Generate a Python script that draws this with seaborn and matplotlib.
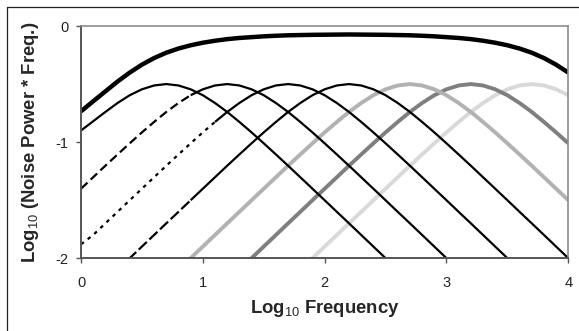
import numpy as np
import pandas as pd
import matplotlib
matplotlib.use("Agg")
import matplotlib.pyplot as plt
import seaborn as sns

# ---- data ----
LOG_FREQ = [0.0, 0.1, 0.2, 0.3, 0.4, 0.5, 0.6, 0.7, 0.8, 0.9,
            1.0, 1.1, 1.2, 1.3, 1.4, 1.5, 1.6, 1.7, 1.8, 1.9,
            2.0, 2.1, 2.2, 2.3, 2.4, 2.5, 2.6, 2.7, 2.8, 2.9,
            3.0, 3.1, 3.2, 3.3, 3.4, 3.5, 3.6, 3.7, 3.8, 3.9, 4.0]

N = None
TOTAL = [-0.735, -0.648, -0.563, -0.478, -0.401, -0.333, -0.276, -0.230, -0.194, -0.166,
         -0.144, -0.127, -0.113, -0.103, -0.096, -0.089, -0.084, -0.080, -0.078, -0.076,
         -0.075, -0.074, -0.073, -0.074, -0.075, -0.076, -0.078, -0.080, -0.084, -0.089,
         -0.096, -0.103, -0.113, -0.127, -0.144, -0.166, -0.194, -0.230, -0.276, -0.333, -0.401]

BAND_07 = [-0.900, -0.820, -0.740, -0.663, -0.596, -0.545, -0.512, -0.500, -0.512, -0.545,
           -0.596, -0.663, -0.740, -0.826, -0.916, -1.010, -1.106, -1.203, -1.302, -1.401,
           -1.500, -1.600, -1.699, -1.799, -1.899, -1.999, -2.099, N, N, N,
           N, N, N, N, N, N, N, N, N, N, N]

BAND_12 = [-1.401, -1.302, -1.203, -1.106, -1.010, -0.916, -0.826, -0.740, -0.663, -0.596,
           -0.545, -0.512, -0.500, -0.512, -0.545, -0.596, -0.663, -0.740, -0.826, -0.916,
           -1.010, -1.106, -1.203, -1.302, -1.401, -1.500, -1.600, -1.699, -1.799, -1.899,
           -1.999, -2.099, N, N, N, N, N, N, N, N, N]

BAND_17 = [-1.880, -1.799, -1.699, -1.600, -1.500, -1.401, -1.302, -1.203, -1.106, -1.010,
           -0.916, -0.826, -0.740, -0.663, -0.596, -0.545, -0.512, -0.500, -0.512, -0.545,
           -0.596, -0.663, -0.740, -0.826, -0.916, -1.010, -1.106, -1.203, -1.302, -1.401,
           -1.500, -1.600, -1.699, -1.799, -1.899, -1.999, -2.099, N, N, N, N]

BAND_22 = [N, N, N, -2.099, -1.999, -1.899, -1.799, -1.699, -1.600, -1.500,
           -1.401, -1.302, -1.203, -1.106, -1.010, -0.916, -0.826, -0.740, -0.663, -0.596,
           -0.545, -0.512, -0.500, -0.512, -0.545, -0.596, -0.663, -0.740, -0.826, -0.916,
           -1.010, -1.106, -1.203, -1.302, -1.401, -1.500, -1.600, -1.699, -1.799, -1.899, -1.999]

BAND_27 = [N, N, N, N, N, N, N, N, -2.099, -1.999,
           -1.899, -1.799, -1.699, -1.600, -1.500, -1.401, -1.302, -1.203, -1.106, -1.010,
           -0.916, -0.826, -0.740, -0.663, -0.596, -0.545, -0.512, -0.500, -0.512, -0.545,
           -0.596, -0.663, -0.740, -0.826, -0.916, -1.010, -1.106, -1.203, -1.302, -1.401, -1.500]

BAND_32 = [N, N, N, N, N, N, N, N, N, N,
           N, N, N, -2.099, -1.999, -1.899, -1.799, -1.699, -1.600, -1.500,
           -1.401, -1.302, -1.203, -1.106, -1.010, -0.916, -0.826, -0.740, -0.663, -0.596,
           -0.545, -0.512, -0.500, -0.512, -0.545, -0.596, -0.663, -0.740, -0.826, -0.916, -1.010]

BAND_37 = [N, N, N, N, N, N, N, N, N, N,
           N, N, N, N, N, N, N, N, -2.099, -1.999,
           -1.899, -1.799, -1.699, -1.600, -1.500, -1.401, -1.302, -1.203, -1.106, -1.010,
           -0.916, -0.826, -0.740, -0.663, -0.596, -0.545, -0.512, -0.500, -0.512, -0.545, -0.596]

X_TICKS = [0, 1, 2, 3, 4]
Y_TICKS = [0, -1, -2]

# ---- style ----
sns.set_style("white")
plt.rcParams["font.family"] = ["Liberation Sans", "DejaVu Sans"]
plt.rcParams["mathtext.fontset"] = "custom"
plt.rcParams["mathtext.rm"] = "Liberation Sans"
plt.rcParams["mathtext.bf"] = "Liberation Sans:bold"

fig = plt.figure(figsize=(5.79, 3.31), dpi=100)
W, H = 579.0, 331.0
ax = fig.add_axes([81 / W, 1 - 258.3 / H, (568.3 - 81) / W, (258.3 - 26) / H])

# outer frame (only top and left visible in reference)
fig.add_artist(plt.Line2D([7 / W, 1.0], [1 - 7 / H, 1 - 7 / H], color="#222222", lw=0.9,
                          transform=fig.transFigure))
fig.add_artist(plt.Line2D([7 / W, 7 / W], [0.0, 1 - 7 / H], color="#222222", lw=0.9,
                          transform=fig.transFigure))

df = pd.DataFrame({"x": LOG_FREQ, "total": TOTAL, "b07": BAND_07, "b12": BAND_12,
                   "b17": BAND_17, "b22": BAND_22, "b27": BAND_27, "b32": BAND_32,
                   "b37": BAND_37}).astype(float)


def draw(col, color, lw, dash=None, split=None, z=2):
    d = df[["x", col]].dropna()
    if dash is None or split is None:
        sns.lineplot(data=d, x="x", y=col, ax=ax, color=color, lw=lw, zorder=z,
                     solid_capstyle="butt", estimator=None, sort=True)
    else:
        lo = d[d["x"] <= split + 1e-9]
        hi = d[d["x"] >= split - 1e-9]
        sns.lineplot(data=lo, x="x", y=col, ax=ax, color=color, lw=lw, zorder=z,
                     linestyle=(0, dash), dash_capstyle="butt", estimator=None, sort=True)
        sns.lineplot(data=hi, x="x", y=col, ax=ax, color=color, lw=lw, zorder=z,
                     solid_capstyle="butt", estimator=None, sort=True)


draw("b37", "#d9d9d9", 2.8, z=2)
draw("b32", "#7f7f7f", 2.8, z=2)
draw("b27", "#b2b2b2", 2.8, z=2)
draw("b22", "#000000", 1.6, dash=(5, 1.6), split=0.9, z=3)
draw("b17", "#000000", 1.6, dash=(1.6, 2.2), split=1.1, z=3)
draw("b12", "#000000", 1.6, dash=(4, 2), split=0.9, z=3)
draw("b07", "#000000", 1.6, z=3)
draw("total", "#000000", 3.2, z=4)

ax.set_xlim(0, 4)
ax.set_ylim(-2, 0)
ax.set_xticks(X_TICKS)
ax.set_yticks(Y_TICKS)
ax.set_xticklabels([str(t) for t in X_TICKS])
ax.set_yticklabels([str(t) for t in Y_TICKS])
ax.tick_params(axis="both", which="major", direction="out", length=3.6, width=1.0,
               color="#555555", labelsize=10.5, labelcolor="#222222",
               bottom=True, left=True)
ax.tick_params(axis="x", pad=9)
ax.tick_params(axis="y", pad=5.5)

for side in ["top", "right"]:
    ax.spines[side].set_color("#8c8c8c")
    ax.spines[side].set_linewidth(1.2)
for side in ["bottom", "left"]:
    ax.spines[side].set_color("#555555")
    ax.spines[side].set_linewidth(1.4)
for s in ax.spines.values():
    s.set_visible(True)
    s.set_zorder(5)

ax.set_xlabel(r"Log$_{\mathrm{10}}$ Frequency", fontsize=13.3, fontweight="bold")
ax.set_ylabel(r"Log$_{\mathrm{10}}$ (Noise Power * Freq.)", fontsize=13.3, fontweight="bold")
ax.xaxis.set_label_coords(0.5, -0.172)
ax.yaxis.set_label_coords(-0.082, 0.5)

fig.savefig("out.png", dpi=100)
